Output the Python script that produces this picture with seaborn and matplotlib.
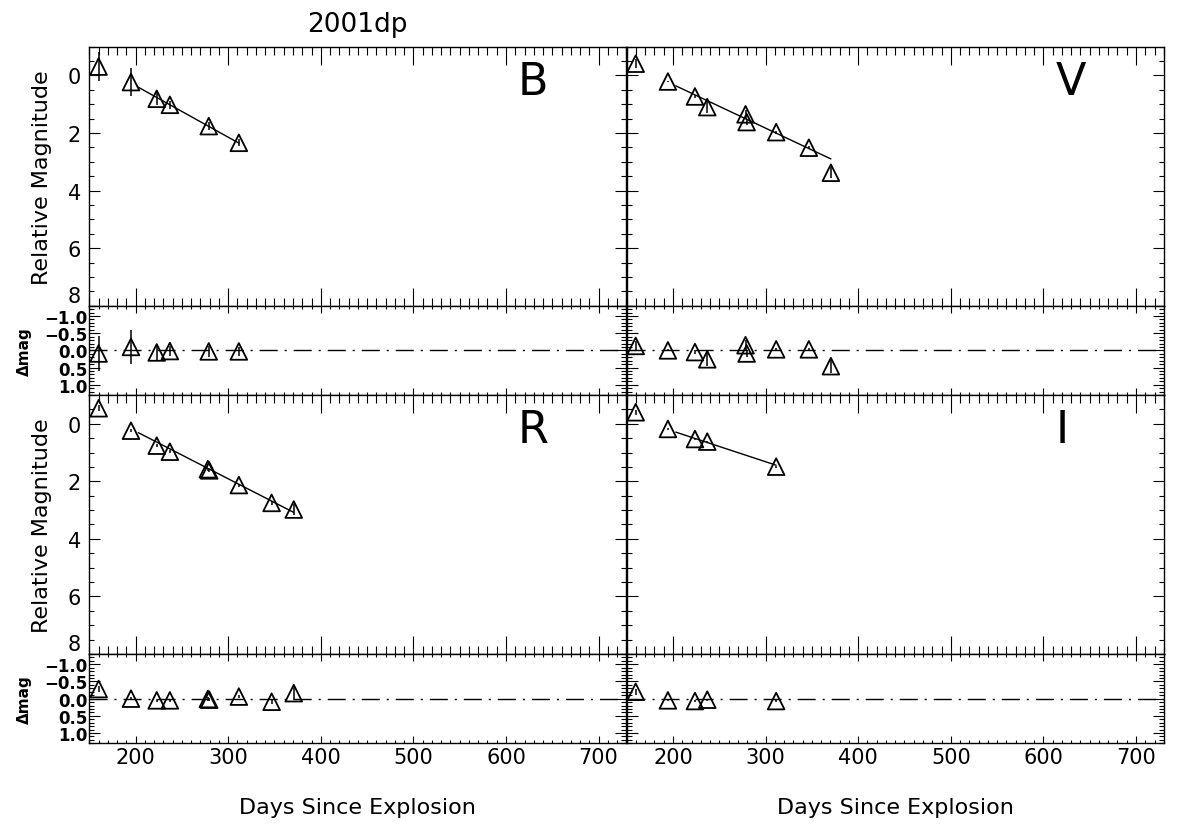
import numpy as np
import pandas as pd
import matplotlib
matplotlib.use("Agg")
import matplotlib.pyplot as plt
from matplotlib.ticker import MultipleLocator, FixedLocator, FuncFormatter
import seaborn as sns

# ---------------- data ----------------
title = "2001dp"
bands = ["B", "V", "R", "I"]

b_days = [160.0, 195.0, 222.8, 237.0, 279.0, 311.5]
b_mags = [-0.31, 0.23, 0.81, 1.02, 1.76, 2.34]
b_errs = [0.50, 0.50, 0.22, 0.15, 0.15, 0.12]
b_res = [0.09, -0.10, 0.06, 0.02, 0.03, 0.03]
b_fit_days = [203.0, 311.5]
b_fit_mags = [0.41, 2.35]

v_days = [159.7, 194.5, 223.7, 237.0, 278.3, 279.5, 311.4, 346.7, 370.5]
v_mags = [-0.41, 0.21, 0.73, 1.10, 1.35, 1.62, 1.97, 2.51, 3.38]
v_errs = [0.15, 0.03, 0.05, 0.20, 0.15, 0.10, 0.05, 0.05, 0.20]
v_res = [-0.13, 0.00, 0.05, 0.26, -0.15, 0.09, -0.03, -0.03, 0.46]
v_fit_days = [203.0, 370.5]
v_fit_mags = [0.36, 2.90]

r_days = [160.1, 195.0, 222.8, 237.0, 278.0, 279.5, 311.5, 346.9, 370.8]
r_mags = [-0.54, 0.24, 0.76, 0.97, 1.58, 1.62, 2.13, 2.75, 2.98]
r_errs = [0.10, 0.05, 0.05, 0.05, 0.05, 0.05, 0.05, 0.08, 0.20]
r_res = [-0.28, 0.00, 0.05, 0.05, 0.01, 0.03, -0.06, 0.09, -0.16]
r_fit_days = [203.0, 370.8]
r_fit_mags = [0.31, 3.08]

i_days = [159.7, 194.5, 223.7, 237.0, 311.4]
i_mags = [-0.40, 0.18, 0.53, 0.62, 1.49]
i_errs = [0.08, 0.03, 0.03, 0.03, 0.03]
i_res = [-0.20, 0.05, 0.07, 0.03, 0.07]
i_fit_days = [203.0, 311.4]
i_fit_mags = [0.29, 1.44]

x_ticks = [200, 300, 400, 500, 600, 700]
mag_ticks = [0, 2, 4, 6, 8]
res_ticks = [-1.0, -0.5, 0.0, 0.5, 1.0]

series = {
    "B": (b_days, b_mags, b_errs, b_res, b_fit_days, b_fit_mags),
    "V": (v_days, v_mags, v_errs, v_res, v_fit_days, v_fit_mags),
    "R": (r_days, r_mags, r_errs, r_res, r_fit_days, r_fit_mags),
    "I": (i_days, i_mags, i_errs, i_res, i_fit_days, i_fit_mags),
}

# ---------------- style ----------------
sns.set_theme(style="ticks")
plt.rcParams["font.family"] = ["DejaVu Sans"]
plt.rcParams["axes.linewidth"] = 1.0
plt.rcParams["axes.edgecolor"] = "black"
plt.rcParams["text.color"] = "black"
plt.rcParams["axes.labelcolor"] = "black"
plt.rcParams["xtick.color"] = "black"
plt.rcParams["ytick.color"] = "black"
plt.rcParams["xtick.labelcolor"] = "black"
plt.rcParams["ytick.labelcolor"] = "black"

fig = plt.figure(figsize=(11.77, 8.28), dpi=100)

col_x = [0.07587, 0.53246]
col_w = 0.4563
main_bottom = [0.6296, 0.20894]
main_h = 0.3128
res_bottom = [0.5217, 0.10109]
res_h = 0.10785

XMIN, XMAX = 150, 730


def fmt_res(v, pos):
    s = f"{v:.1f}"
    if s == "-0.0":
        s = "0.0"
    return s.replace("-", "\u2212")


for idx, band in enumerate(bands):
    col = idx % 2
    row = idx // 2
    days, mags, errs, res, fdays, fmags = series[band]
    df = pd.DataFrame({"days": days, "mag": mags, "err": errs, "res": res})
    fit = pd.DataFrame({"days": fdays, "mag": fmags})

    # ---- main panel ----
    ax = fig.add_axes([col_x[col], main_bottom[row], col_w, main_h])
    ax.set_xlim(XMIN, XMAX)
    ax.set_ylim(8, -1)
    ax.xaxis.set_major_locator(FixedLocator(x_ticks))
    ax.xaxis.set_minor_locator(MultipleLocator(10))
    ax.yaxis.set_major_locator(FixedLocator(mag_ticks))
    ax.yaxis.set_minor_locator(MultipleLocator(0.5))
    ax.tick_params(which="both", direction="in", top=True, right=True,
                   bottom=True, left=True, labelbottom=False, color="black",
                   width=0.8)
    ax.tick_params(axis="x", which="major", length=13)
    ax.tick_params(axis="x", which="minor", length=5.8)
    ax.tick_params(axis="y", which="major", length=7.8, labelsize=15, pad=6)
    ax.tick_params(axis="y", which="minor", length=3.3)
    for s in ax.spines.values():
        s.set_linewidth(1.0)
        s.set_color("black")

    ax.errorbar(df["days"], df["mag"], yerr=df["err"], fmt="none",
                ecolor="black", elinewidth=1.1, capsize=0, zorder=2)
    sns.lineplot(data=fit, x="days", y="mag", ax=ax, color="black",
                 linewidth=1.0, estimator=None, sort=False, zorder=2)
    sns.scatterplot(data=df, x="days", y="mag", ax=ax, marker="^", s=144,
                    facecolor="none", edgecolor="black", linewidth=1.3,
                    zorder=3, legend=False, clip_on=False)
    ax.text(613, 0.2, band, fontsize=32, ha="left", va="center", color="black")
    ax.set_xlabel("")
    if col == 0:
        ax.set_ylabel("Relative Magnitude", fontsize=16, labelpad=11)
        for lab in ax.get_yticklabels():
            if lab.get_text() == "8":
                lab.set_verticalalignment("bottom")
    else:
        ax.set_ylabel("")
        ax.tick_params(axis="y", labelleft=False)
    if row == 0 and col == 0:
        ax.set_title(title, fontsize=19, pad=11)

    # ---- residual panel ----
    rx = fig.add_axes([col_x[col], res_bottom[row], col_w, res_h])
    rx.set_xlim(XMIN, XMAX)
    rx.set_ylim(1.3, -1.3)
    rx.xaxis.set_major_locator(FixedLocator(x_ticks))
    rx.xaxis.set_minor_locator(MultipleLocator(10))
    rx.yaxis.set_major_locator(FixedLocator(res_ticks))
    rx.yaxis.set_minor_locator(MultipleLocator(0.1))
    rx.yaxis.set_major_formatter(FuncFormatter(fmt_res))
    rx.tick_params(which="both", direction="in", top=True, right=True,
                   bottom=True, left=True, color="black", width=0.8)
    rx.tick_params(axis="x", which="major", length=4.8, labelsize=15, pad=3)
    rx.tick_params(axis="x", which="minor", length=2.0)
    rx.tick_params(axis="y", which="major", length=7.8, pad=1.5)
    rx.tick_params(axis="y", which="minor", length=3.3)
    for lab in rx.get_yticklabels():
        lab.set_fontweight("bold")
        lab.set_fontsize(12)
    for s in rx.spines.values():
        s.set_linewidth(1.0)
        s.set_color("black")

    rx.axhline(0.0, color="black", linewidth=1.0,
               linestyle=(0, (13, 5, 1.5, 5)), zorder=1)
    rx.errorbar(df["days"], df["res"], yerr=df["err"], fmt="none",
                ecolor="black", elinewidth=1.1, capsize=0, zorder=2)
    sns.scatterplot(data=df, x="days", y="res", ax=rx, marker="^", s=144,
                    facecolor="none", edgecolor="black", linewidth=1.3,
                    zorder=3, legend=False, clip_on=False)

    if row == 1:
        rx.set_xlabel("Days Since Explosion", fontsize=16, labelpad=21)
    else:
        rx.set_xlabel("")
        rx.tick_params(axis="x", labelbottom=False)
    if col == 0:
        rx.set_ylabel("\u0394mag", fontsize=11, fontweight="bold", labelpad=9)
    else:
        rx.set_ylabel("")
        rx.tick_params(axis="y", labelleft=False)

fig.savefig("out.png", dpi=100)
